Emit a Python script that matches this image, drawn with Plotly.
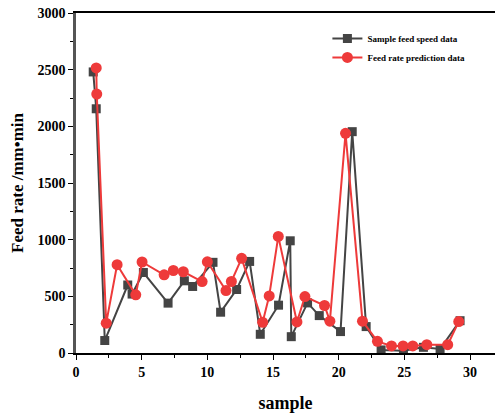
import plotly.graph_objects as go

# Sample feed speed data (black squares)
sample_x = [1.31, 1.54, 2.19, 3.94, 4.27, 5.13, 7.01, 8.25, 8.88, 10.43, 11.01, 12.23, 13.22,
            14.03, 15.42, 16.31, 16.39, 17.63, 18.52, 20.14, 21.03, 22.09, 23.23, 24.93,
            26.45, 27.72, 29.24]
sample_y = [2480, 2155, 110, 600, 520, 710, 440, 637, 587, 800, 360, 560, 808,
            165, 422, 990, 144, 442, 330, 189, 1953, 233, 27, 20,
            50, 35, 285]

# Feed rate prediction data (red circles)
pred_x = [1.54, 1.58, 2.30, 3.13, 4.55, 5.03, 6.71, 7.41, 8.17, 9.60, 10.0, 11.42, 11.83,
          12.61, 14.21, 14.71, 15.40, 16.82, 17.43, 18.92, 19.33, 20.52, 21.81, 22.95,
          24.02, 24.90, 25.64, 26.71, 28.30, 29.14]
pred_y = [2515, 2285, 263, 779, 513, 803, 690, 728, 717, 630, 805, 551, 631,
          835, 271, 504, 1029, 274, 498, 419, 281, 1938, 281, 103,
          62, 62, 62, 73, 73, 277]

x_ticks = [0, 5, 10, 15, 20, 25, 30]
y_ticks = [0, 500, 1000, 1500, 2000, 2500, 3000]

FONT = "Liberation Serif"

fig = go.Figure()
fig.add_trace(go.Scatter(
    x=sample_x, y=sample_y, mode="lines+markers", name="<b>Sample feed speed data</b>",
    line=dict(color="#444444", width=2),
    marker=dict(symbol="square", size=9, color="#444444"),
))
fig.add_trace(go.Scatter(
    x=pred_x, y=pred_y, mode="lines+markers", name="<b>Feed rate prediction data</b>",
    line=dict(color="#EE3A3A", width=2),
    marker=dict(symbol="circle", size=11, color="#EE3A3A"),
))

fig.update_layout(
    width=495, height=414,
    margin=dict(l=76, r=0, t=13, b=61),
    plot_bgcolor="white", paper_bgcolor="white",
    font=dict(family=FONT, color="black"),
    showlegend=True,
    legend=dict(x=0.6, y=0.968, xanchor="left", yanchor="top",
                font=dict(family=FONT, size=9, color="black"),
                bgcolor="rgba(0,0,0,0)", tracegroupgap=0, itemwidth=30),
)
fig.update_xaxes(
    range=[0, 31.9], tickvals=x_ticks, ticktext=[f"<b>{v}</b>" for v in x_ticks],
    ticks="outside", ticklen=5, tickwidth=1.2, tickcolor="black",
    minor=dict(ticks="outside", ticklen=3, dtick=2.5, tick0=0, tickcolor="black"),
    showline=True, linecolor="black", linewidth=1.5, mirror=True,
    showgrid=False, zeroline=False,
    tickfont=dict(family=FONT, size=14, color="black"),
    title=dict(text="<b>sample</b>", font=dict(family=FONT, size=18, color="black"), standoff=18),
)
fig.update_yaxes(
    range=[0, 3000], tickvals=y_ticks, ticktext=[f"<b>{v}</b>" for v in y_ticks],
    ticks="outside", ticklen=5, tickwidth=1.2, tickcolor="black",
    minor=dict(ticks="outside", ticklen=3, dtick=250, tick0=0, tickcolor="black"),
    showline=True, linecolor="#555555", linewidth=2.5,
    showgrid=False, zeroline=False,
    tickfont=dict(family=FONT, size=14, color="black"),
    title=dict(text="<b>Feed rate /mm•min</b>", font=dict(family=FONT, size=17, color="black"), standoff=10),
)

fig.write_html("out.html")
